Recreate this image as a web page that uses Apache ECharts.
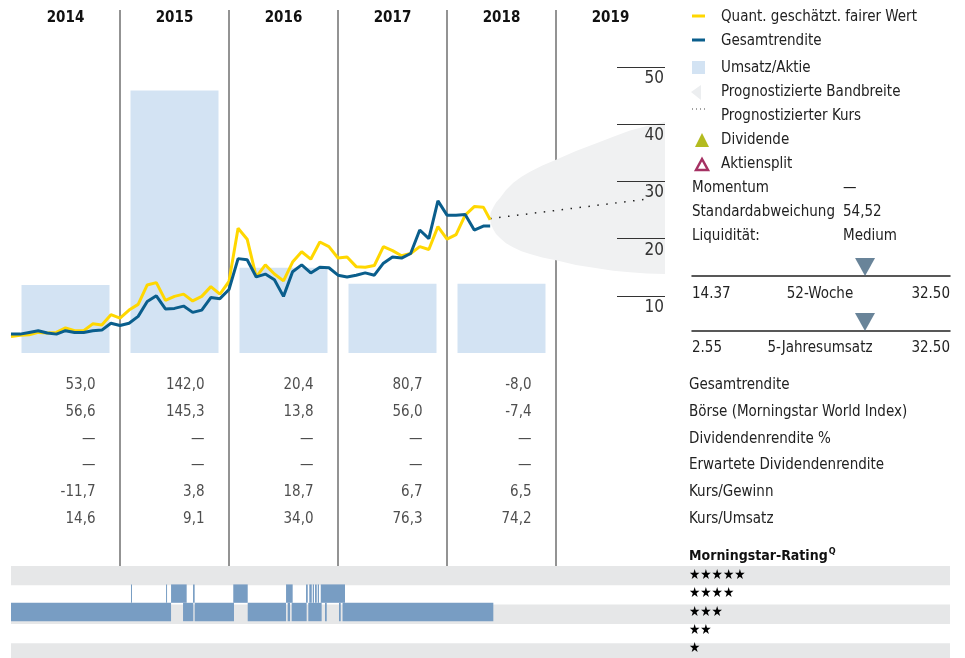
<!DOCTYPE html>
<html>
<head>
<meta charset="utf-8">
<script src="https://cdn.jsdelivr.net/npm/echarts@6/dist/echarts.min.js"></script>
<style>
html, body { margin: 0; padding: 0; background: #fff; }
#chart { width: 965px; height: 658px; }
</style>
</head>
<body>
<div id="chart"></div>
<script>
const FONT = "'Liberation Sans Narrow', 'DejaVu Sans Condensed', 'Arial Narrow', sans-serif"

// Jahre (Spalten)
const years = ['2014', '2015', '2016', '2017', '2018', '2019']
// Umsatz/Aktie je Jahr
const umsatzAktie = [11.9, 45.9, 14.9, 12.1, 12.1, null]
// Monatswerte ab Jan 2014 (Index = Monat), letzter Wert Mitte Mai 2018
const lastMonth = 52.75
const fairValue = [
  2.9, 3.1, 3.2, 3.6, 3.5, 3.6, 4.4, 3.9, 3.9, 5.1, 4.9, 6.7,
  6.1, 7.5, 8.5, 11.9, 12.3, 9.2, 9.9, 10.3, 9.1, 9.9, 11.6, 10.3,
  12.5, 21.8, 19.9, 13.3, 15.4, 13.8, 12.6, 15.9, 17.7, 16.4, 19.4, 18.6,
  16.6, 16.8, 15.1, 15.0, 15.3, 18.6, 17.9, 17.0, 17.4, 18.6, 18.1, 22.1,
  19.9, 20.7, 24.1, 25.6, 25.5, 23.3
]
const totalReturn = [
  3.3, 3.3, 3.6, 3.9, 3.5, 3.3, 3.9, 3.6, 3.6, 3.9, 4.0, 5.2,
  4.8, 5.2, 6.4, 9.0, 10.0, 7.7, 7.8, 8.2, 7.1, 7.5, 9.7, 9.5,
  11.1, 16.5, 16.3, 13.3, 13.8, 12.8, 9.9, 14.2, 15.4, 14.0, 15.0, 14.9,
  13.6, 13.3, 13.6, 14.0, 13.6, 15.7, 16.8, 16.6, 17.4, 21.5, 20.0, 26.6,
  24.1, 24.1, 24.2, 21.5, 22.2, 22.2
]
// Prognose
const forecastPrice = [[52.75, 23.5], [70, 26.9]]
const bandUpper = [[52.74, 23.6], [52.8, 24.5], [53.07, 25.4], [53.4, 26.3], [53.84, 27.1], [54.5, 28.5], [55.27, 29.7],
  [56.2, 30.8], [57.14, 31.7], [58.5, 32.8], [60, 33.8], [62.2, 35.3], [64.52, 36.7], [66.3, 37.8], [68.15, 38.9], [70, 39.7], [72, 40.4]]
const bandLower = [[52.8, 22.7], [53.07, 21.7], [53.4, 20.8], [53.84, 20.1], [54.5, 19.2], [55.27, 18.5],
  [56.2, 17.8], [57.14, 17.3], [58.5, 16.7], [60, 16.2], [62.2, 15.4], [64.52, 14.8], [66.3, 14.4], [68.15, 14.1], [70, 13.9], [72, 13.8]]

// Tabelle
const tableRows = ['Gesamtrendite', 'Börse (Morningstar World Index)', 'Dividendenrendite %', 'Erwartete Dividendenrendite', 'Kurs/Gewinn', 'Kurs/Umsatz']
const rowGesamtrendite = [53.0, 142.0, 20.4, 80.7, -8.0]
const rowBoerse = [56.6, 145.3, 13.8, 56.0, -7.4]
const rowDivRendite = [null, null, null, null, null]
const rowErwDivRendite = [null, null, null, null, null]
const rowKursGewinn = [-11.7, 3.8, 18.7, 6.7, 6.5]
const rowKursUmsatz = [14.6, 9.1, 34.0, 76.3, 74.2]

// Morningstar-Rating (Monat von, Monat bis)
const ratingLabels = ['★', '★★', '★★★', '★★★★', '★★★★★']
const rating4 = [[13.21, 13.32], [17.07, 17.15], [17.62, 19.34], [20.04, 20.22], [24.47, 26.06], [30.28, 31.01],
  [32.48, 32.67], [32.84, 33.11], [33.22, 33.36], [33.47, 33.66], [33.77, 33.91], [34.1, 36.77]]
const rating3 = [[0, 17.62], [18.94, 20.07], [20.22, 24.55], [26.06, 30.28], [30.46, 30.72], [30.9, 32.55],
  [32.73, 34.2], [34.57, 34.76], [36.11, 36.3], [36.5, 53.1]]

// Kennzahlen rechts
const stats = [['Momentum', '—'], ['Standardabweichung', '54,52'], ['Liquidität:', 'Medium']]
const range52 = [14.37, 32.50]
const price52 = 26.53
const range5y = [2.55, 32.50]
const value5y = 22.63

const YELLOW = '#ffd700'
const BLUE = '#0a5e8c'

function fmt (v) {
  return v == null ? '—' : v.toFixed(1).replace('.', ',')
}

function monthly (arr) {
  return arr.map((v, i) => [i === arr.length - 1 ? lastMonth : i, v])
}

const tableData = []
;[rowGesamtrendite, rowBoerse, rowDivRendite, rowErwDivRendite, rowKursGewinn, rowKursUmsatz].forEach((row, r) => {
  row.forEach((v, c) => tableData.push([c, r, fmt(v)]))
})

const ratingData = []
rating3.forEach(s => ratingData.push([s[0], s[1], 2]))
rating4.forEach(s => ratingData.push([s[0], s[1], 3]))

function renderSegment (params, api) {
  const a = api.coord([api.value(0), api.value(2)])
  const b = api.coord([api.value(1), api.value(2)])
  const h = api.size([0, 1])[1]
  return {
    type: 'rect',
    shape: { x: a[0], y: a[1] - h / 2, width: Math.max(b[0] - a[0], 1), height: h },
    style: { fill: '#789dc3' }
  }
}

function renderBand (params, api) {
  const pts = bandUpper.concat(bandLower.slice().reverse()).map(p => api.coord(p))
  return { type: 'polygon', shape: { points: pts }, style: { fill: '#f0f1f2' } }
}

function text (x, y, t, extra) {
  return {
    type: 'text',
    x: x,
    y: y,
    style: Object.assign({ text: t, fontFamily: FONT, fontSize: 15, fill: '#222', verticalAlign: 'middle' }, extra || {})
  }
}

const legendGraphics = [
  { type: 'line', shape: { x1: 692, y1: 16, x2: 705, y2: 16 }, style: { stroke: YELLOW, lineWidth: 3 } },
  text(721, 17, 'Quant. geschätzt. fairer Wert'),
  { type: 'line', shape: { x1: 692, y1: 40, x2: 705, y2: 40 }, style: { stroke: BLUE, lineWidth: 3 } },
  text(721, 41, 'Gesamtrendite'),
  { type: 'rect', shape: { x: 692, y: 61, width: 13, height: 13 }, style: { fill: '#d3e3f3' } },
  text(721, 68, 'Umsatz/Aktie'),
  { type: 'polygon', shape: { points: [[691, 92], [701, 85], [701, 100]] }, style: { fill: '#eceef0' } },
  text(721, 92, 'Prognostizierte Bandbreite'),
  { type: 'line', shape: { x1: 692, y1: 109, x2: 706, y2: 109 }, style: { stroke: '#444', lineWidth: 1.2, lineDash: [1, 3] } },
  text(721, 116, 'Prognostizierter Kurs'),
  { type: 'polygon', shape: { points: [[695, 147], [702, 133], [709, 147]] }, style: { fill: '#b3bb1f' } },
  text(721, 140, 'Dividende'),
  { type: 'polygon', shape: { points: [[696, 170], [702, 159], [708, 170]] }, style: { fill: '#fff', stroke: '#a53163', lineWidth: 2.5 } },
  text(721, 164, 'Aktiensplit')
]
stats.forEach((s, i) => {
  legendGraphics.push(text(692, 188 + i * 24, s[0]))
  legendGraphics.push(text(843, 188 + i * 24, s[1]))
})
legendGraphics.push(
  text(692, 294, range52[0].toFixed(2)),
  text(820, 294, '52-Woche', { align: 'center' }),
  text(950, 294, range52[1].toFixed(2), { align: 'right' }),
  text(692, 348, range5y[0].toFixed(2)),
  text(820, 348, '5-Jahresumsatz', { align: 'center' }),
  text(950, 348, range5y[1].toFixed(2), { align: 'right' }),
  {
    type: 'text',
    x: 689,
    y: 556,
    style: {
      text: '{a|Morningstar-Rating}{b|Q}',
      verticalAlign: 'middle',
      rich: {
        a: { fontFamily: FONT, fontSize: 14, fontWeight: 'bold', fill: '#111' },
        b: { fontFamily: FONT, fontSize: 9, fontWeight: 'bold', fill: '#111', padding: [0, 0, 9, 1] }
      }
    }
  }
)
const stripes = [566, 604.6, 643.2].map(y => ({
  type: 'rect', z: -10, shape: { x: 11, y: y, width: 939, height: 19.3 }, style: { fill: '#e6e7e8' }
}))

const gaugeTriangle = 'path://M0,0 L20,0 L10,18 Z'

const chart = echarts.init(document.getElementById('chart'))
chart.setOption({
  animation: false,
  backgroundColor: '#fff',
  textStyle: { fontFamily: FONT },
  grid: [
    { left: 11, top: 67, width: 654, height: 286 },
    { left: 11, top: 10, width: 654, height: 556 },
    { left: 11, top: 372, width: 654, height: 160 },
    { left: 11, top: 566, width: 654, height: 96.5 },
    { left: 692, top: 270, width: 258, height: 6 },
    { left: 692, top: 325, width: 258, height: 6 },
    { left: 617, top: 67, width: 48, height: 286 }
  ],
  xAxis: [
    { gridIndex: 0, type: 'value', min: 0, max: 72, show: false },
    { gridIndex: 0, type: 'category', data: years, show: false },
    {
      gridIndex: 1, type: 'value', min: 0, max: 72, interval: 12, z: 1,
      axisLine: { show: false }, axisTick: { show: false }, axisLabel: { show: false },
      splitLine: { show: true, showMinLine: false, showMaxLine: false, lineStyle: { color: '#6f6f6f', width: 1.5 } }
    },
    {
      gridIndex: 1, type: 'category', data: years, position: 'top',
      axisLine: { show: false }, axisTick: { show: false }, splitLine: { show: false },
      axisLabel: { inside: true, margin: 1, verticalAlign: 'top', fontSize: 15, fontWeight: 'bold', color: '#111', fontFamily: FONT }
    },
    { gridIndex: 2, type: 'category', data: years, show: false },
    { gridIndex: 3, type: 'value', min: 0, max: 72, show: false },
    {
      gridIndex: 4, type: 'value', min: range52[0], max: range52[1],
      axisLine: { show: true, lineStyle: { color: '#222', width: 1.5 } },
      axisTick: { show: false }, axisLabel: { show: false }, splitLine: { show: false }
    },
    {
      gridIndex: 5, type: 'value', min: range5y[0], max: range5y[1],
      axisLine: { show: true, lineStyle: { color: '#222', width: 1.5 } },
      axisTick: { show: false }, axisLabel: { show: false }, splitLine: { show: false }
    },
    { gridIndex: 6, type: 'value', show: false }
  ],
  yAxis: [
    { gridIndex: 0, type: 'value', min: 0, max: 50, show: false },
    { gridIndex: 1, type: 'value', show: false },
    {
      gridIndex: 2, type: 'category', data: tableRows, inverse: true, position: 'right',
      axisLine: { show: false }, axisTick: { show: false },
      axisLabel: { margin: 24, align: 'left', fontSize: 15, color: '#222', fontFamily: FONT }
    },
    {
      gridIndex: 3, type: 'category', data: ratingLabels, position: 'right',
      axisLine: { show: false }, axisTick: { show: false },
      axisLabel: { margin: 24, align: 'left', fontSize: 14, color: '#000' }
    },
    { gridIndex: 4, type: 'value', min: 0, max: 1, show: false },
    { gridIndex: 5, type: 'value', min: 0, max: 1, show: false },
    {
      gridIndex: 6, type: 'value', min: 0, max: 50, interval: 10, position: 'right', z: 3,
      axisLine: { show: false }, axisTick: { show: false },
      splitLine: { show: true, showMinLine: false, showMaxLine: true, lineStyle: { color: '#333', width: 1.2 } },
      axisLabel: {
        inside: true, margin: 1, align: 'right', verticalAlign: 'top', padding: [3, 0, 0, 0], showMinLabel: false,
        fontSize: 17, color: '#333', fontFamily: FONT
      }
    }
  ],
  series: [
    {
      type: 'custom', xAxisIndex: 0, yAxisIndex: 0, z: 1, silent: true,
      renderItem: renderBand, data: [bandUpper[0]]
    },
    {
      name: 'Umsatz/Aktie', type: 'bar', xAxisIndex: 1, yAxisIndex: 0, barWidth: 88, z: 2,
      itemStyle: { color: '#d3e3f3' }, data: umsatzAktie
    },
    {
      name: 'Prognostizierter Kurs', type: 'line', xAxisIndex: 0, yAxisIndex: 0, symbol: 'none', z: 3,
      lineStyle: { color: '#222', width: 1.5, type: [1.5, 7.5] }, data: forecastPrice
    },
    {
      name: 'Quant. geschätzt. fairer Wert', type: 'line', xAxisIndex: 0, yAxisIndex: 0, symbol: 'none', z: 4,
      lineStyle: { color: YELLOW, width: 3 }, data: monthly(fairValue)
    },
    {
      name: 'Gesamtrendite', type: 'line', xAxisIndex: 0, yAxisIndex: 0, symbol: 'none', z: 5,
      lineStyle: { color: BLUE, width: 3 }, data: monthly(totalReturn)
    },
    {
      type: 'scatter', xAxisIndex: 4, yAxisIndex: 2, symbolSize: 0, silent: true,
      label: {
        show: true, position: 'inside', align: 'right', verticalAlign: 'middle', offset: [30, 0],
        fontSize: 15, color: '#222', fontFamily: FONT, formatter: p => p.value[2]
      },
      data: tableData
    },
    {
      type: 'custom', xAxisIndex: 5, yAxisIndex: 3, renderItem: renderSegment,
      encode: { x: [0, 1], y: 2 }, data: ratingData
    },
    {
      type: 'scatter', xAxisIndex: 6, yAxisIndex: 4, clip: false, symbol: gaugeTriangle,
      symbolSize: [20, 18], symbolOffset: [0, -9], itemStyle: { color: '#44657f' }, data: [[price52, 0]]
    },
    {
      type: 'scatter', xAxisIndex: 7, yAxisIndex: 5, clip: false, symbol: gaugeTriangle,
      symbolSize: [20, 18], symbolOffset: [0, -9], itemStyle: { color: '#44657f' }, data: [[value5y, 0]]
    }
  ],
  graphic: stripes.concat(legendGraphics)
})
</script>
</body>
</html>
